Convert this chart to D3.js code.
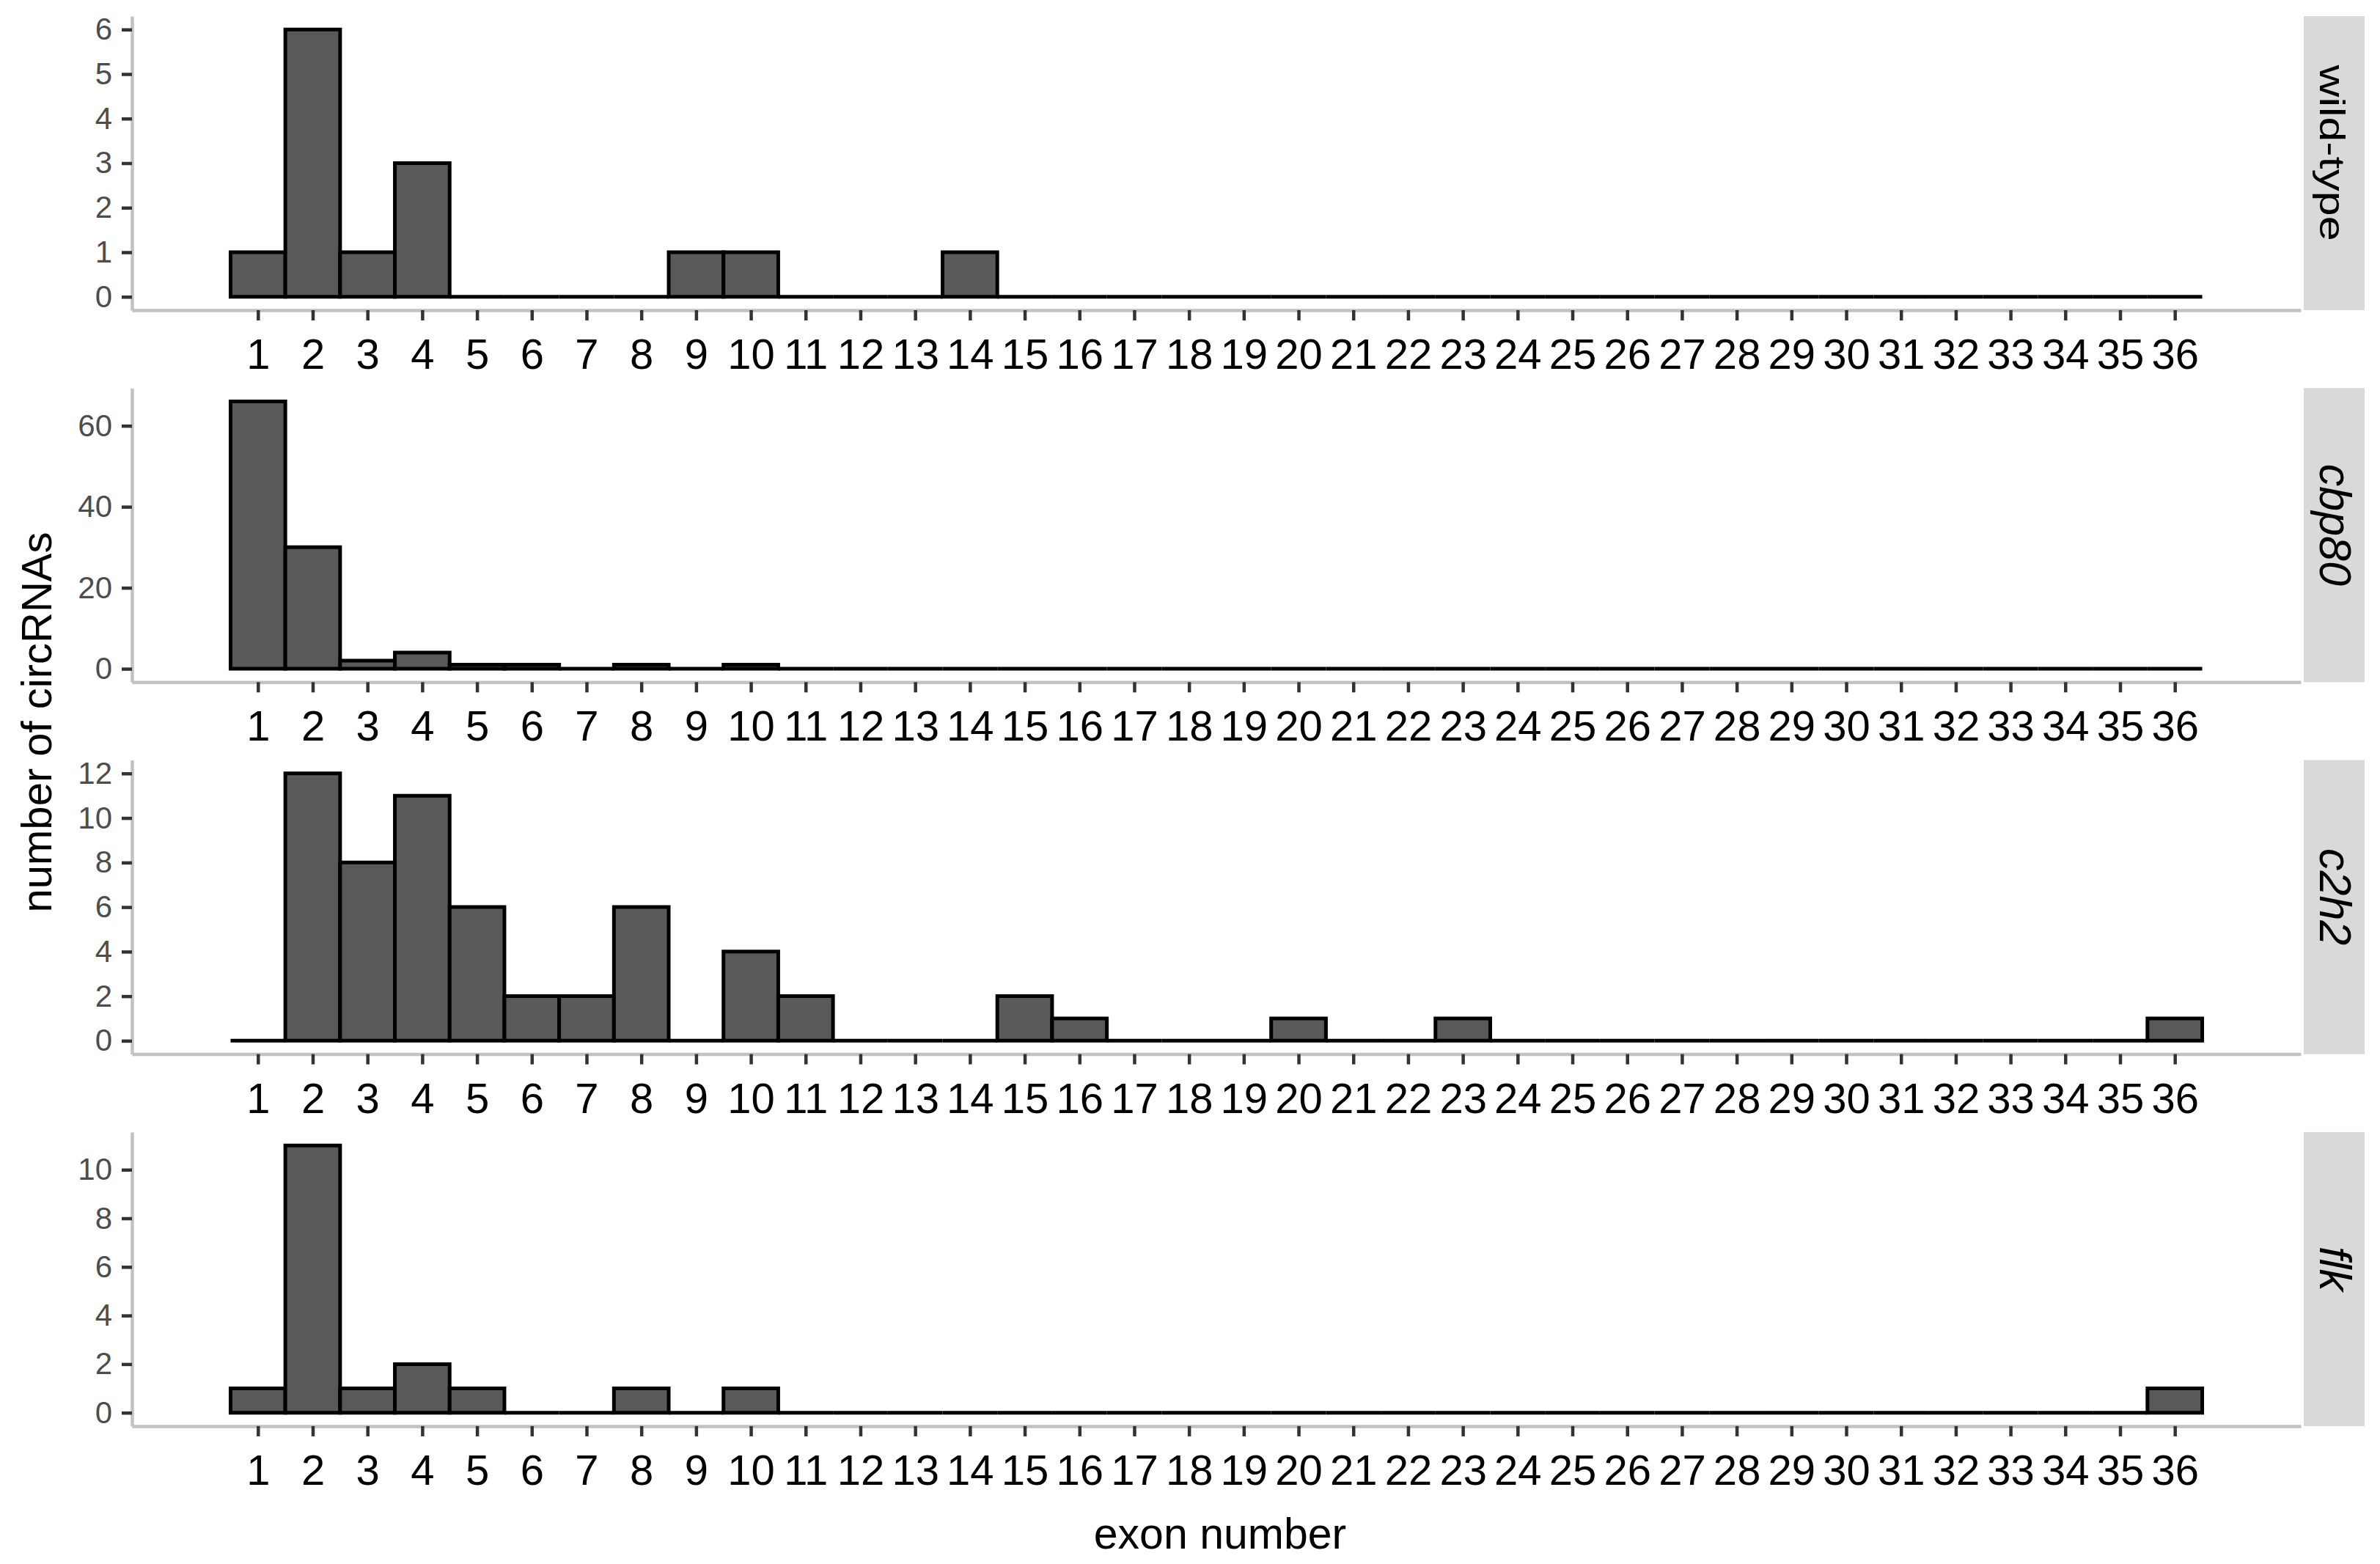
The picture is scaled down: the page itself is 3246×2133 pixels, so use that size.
<!DOCTYPE html>
<html>
<head>
<meta charset="utf-8">
<script src="https://cdn.jsdelivr.net/npm/d3@7"></script>
<style>
  body { margin: 0; background: #fff; }
  svg { display: block; }
</style>
</head>
<body>
<script>
// exon bins 1..36, counts of circRNAs per genotype
var exons = [1,2,3,4,5,6,7,8,9,10,11,12,13,14,15,16,17,18,19,20,21,22,23,24,25,26,27,28,29,30,31,32,33,34,35,36];

var wildType = [1,6,1,3,0,0,0,0,1,1,0,0,0,1,0,0,0,0,0,0,0,0,0,0,0,0,0,0,0,0,0,0,0,0,0,0];
var cbp80    = [66,30,2,4,1,1,0,1,0,1,0,0,0,0,0,0,0,0,0,0,0,0,0,0,0,0,0,0,0,0,0,0,0,0,0,0];
var c2h2     = [0,12,8,11,6,2,2,6,0,4,2,0,0,0,2,1,0,0,0,1,0,0,1,0,0,0,0,0,0,0,0,0,0,0,0,1];
var flk      = [1,11,1,2,1,0,0,1,0,1,0,0,0,0,0,0,0,0,0,0,0,0,0,0,0,0,0,0,0,0,0,0,0,0,0,1];

var panelNames = ['wild-type', 'cbp80', 'c2h2', 'flk'];
var panelData  = [wildType, cbp80, c2h2, flk];
var yTicks1 = [0,1,2,3,4,5,6];
var yTicks2 = [0,20,40,60];
var yTicks3 = [0,2,4,6,8,10,12];
var yTicks4 = [0,2,4,6,8,10];
var panelTicks = [yTicks1, yTicks2, yTicks3, yTicks4];

var W = 3246, H = 2133;
var left = 180, right = 3138;
var top0 = 22, panelH = 401, step = 507.3;
var font = '"Liberation Sans", Arial, sans-serif';

var svg = d3.select('body').append('svg')
    .attr('width', W)
    .attr('height', H);

// histogram bins go 0.5..36.5, ggplot pads 5% each side
var pad = (36.5 - 0.5) * 0.05;
var x = d3.scaleLinear().domain([0.5 - pad, 36.5 + pad]).range([left, right]);

panelData.forEach(function(vals, p) {
    var top = top0 + p * step;
    var bottom = top + panelH;
    var vmax = d3.max(vals);
    var y = d3.scaleLinear()
        .domain([-vmax * 0.05, vmax * 1.05])
        .range([bottom, top]);

    var g = svg.append('g');

    // bars (paths so that zero bins still show as a line)
    g.selectAll('path.bar').data(vals).enter()
        .append('path')
        .attr('class', 'bar')
        .attr('d', function(d, i) {
            var x0 = x(exons[i] - 0.5), x1 = x(exons[i] + 0.5);
            return 'M' + x0 + ',' + y(0) + 'V' + y(d) + 'H' + x1 + 'V' + y(0) + 'Z';
        })
        .attr('fill', '#595959')
        .attr('stroke', '#000')
        .attr('stroke-width', 5)
        .attr('stroke-linejoin', 'miter');

    // y axis
    var ya = g.append('g')
        .attr('transform', 'translate(' + left + ',0)')
        .call(d3.axisLeft(y).tickValues(panelTicks[p]).tickFormat(d3.format('d'))
            .tickSize(14).tickSizeOuter(0).tickPadding(13));
    ya.select('.domain').attr('stroke', '#c2c2c2').attr('stroke-width', 4.5);
    ya.selectAll('.tick line').attr('stroke', '#333').attr('stroke-width', 4.5);
    ya.selectAll('.tick text')
        .attr('fill', '#4d4d4d')
        .style('font-family', font)
        .style('font-size', '42px');

    // x axis
    var xa = g.append('g')
        .attr('transform', 'translate(0,' + bottom + ')')
        .call(d3.axisBottom(x).tickValues(exons).tickSize(14).tickSizeOuter(0).tickPadding(25));
    xa.select('.domain').attr('stroke', '#c2c2c2').attr('stroke-width', 4.5);
    xa.selectAll('.tick line').attr('stroke', '#333').attr('stroke-width', 4.5);
    xa.selectAll('.tick text')
        .attr('fill', '#000')
        .style('font-family', font)
        .style('font-size', '58px');

    // facet strip
    g.append('rect')
        .attr('x', 3142)
        .attr('y', top)
        .attr('width', 83)
        .attr('height', panelH)
        .attr('fill', '#d9d9d9');

    var lab = g.append('text')
        .attr('transform', 'translate(3164,' + (top + panelH / 2 - 14) + ') rotate(90)')
        .attr('text-anchor', 'middle')
        .style('font-family', font)
        .text(panelNames[p]);
    if (p == 0) {
        lab.style('font-size', '48px')
           .attr('textLength', 240)
           .attr('lengthAdjust', 'spacingAndGlyphs');
    } else {
        lab.style('font-size', '61px').style('font-style', 'italic');
    }
});

// axis titles
svg.append('text')
    .attr('transform', 'translate(70,985) rotate(-90)')
    .attr('text-anchor', 'middle')
    .style('font-family', font)
    .style('font-size', '58px')
    .text('number of circRNAs');

svg.append('text')
    .attr('x', 1664)
    .attr('y', 2112)
    .attr('text-anchor', 'middle')
    .style('font-family', font)
    .style('font-size', '59px')
    .text('exon number');
</script>
</body>
</html>
